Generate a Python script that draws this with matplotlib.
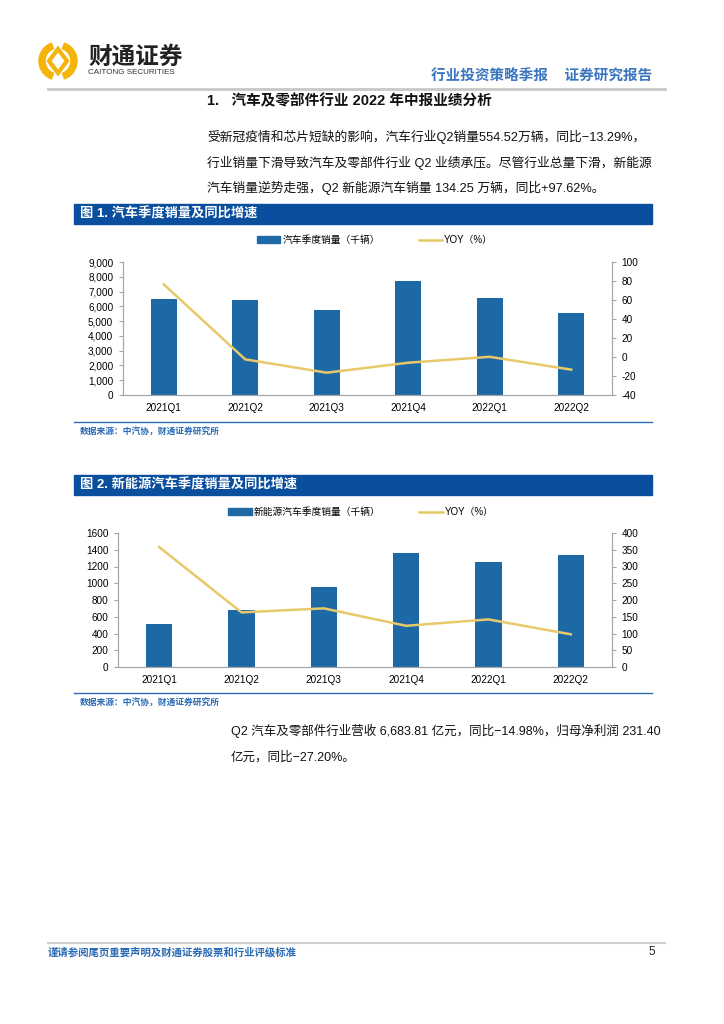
import numpy as np
import matplotlib
matplotlib.use("Agg")
import matplotlib.pyplot as plt
from matplotlib.patches import Rectangle, Wedge, Polygon
from matplotlib.lines import Line2D

plt.rcParams['font.family'] = ['Liberation Sans', 'Noto Sans CJK SC', 'DejaVu Sans']
plt.rcParams['axes.unicode_minus'] = False

# ---------------- data ----------------
quarters = ["2021Q1", "2021Q2", "2021Q3", "2021Q4", "2022Q1", "2022Q2"]

car_sales = [6500, 6420, 5780, 7730, 6560, 5545]       # 千辆
car_yoy = [76.5, -2.5, -16.5, -6.0, 0.2, -13.3]       # %

nev_sales = [516, 676, 952, 1364, 1252, 1343]          # 千辆
nev_yoy = [358, 163, 175, 123, 142, 97.6]              # %

para1 = ["受新冠疫情和芯片短缺的影响，汽车行业Q2销量554.52万辆，同比−13.29%，",
         "行业销量下滑导致汽车及零部件行业 Q2 业绩承压。尽管行业总量下滑，新能源",
         "汽车销量逆势走强，Q2 新能源汽车销量 134.25 万辆，同比+97.62%。"]
para2 = ["Q2 汽车及零部件行业营收 6,683.81 亿元，同比−14.98%，归母净利润 231.40",
         "亿元，同比−27.20%。"]

BAR = "#1c69a6"
LINE = "#e8c96a"
TITLE_BLUE = "#0a4e9e"
TEXT_BLUE = "#3a76bf"
GRID = "#a6a6a6"

W, H = 724, 1024
fig = plt.figure(figsize=(W / 100, H / 100), dpi=100)


def P(x, y):
    return x / W, 1 - y / H


def txt(x, y, s, **kw):
    fig.text(*P(x, y), s, **kw)


# ---------------- header ----------------
# logo mark
lx, ly, r = 58, 61, 19
for a0 in [20, 110, 200, 290]:
    fig.patches.append(Wedge((lx, H - ly), r, a0, a0 + 50, width=6,
                             color="#f5b40a", transform=None))
fig.patches.append(Wedge((lx, H - ly), r, -20, 20, width=6,
                         color="#f5b40a", transform=None))
fig.patches.append(Wedge((lx, H - ly), r, 160, 200, width=6,
                         color="#f5b40a", transform=None))
fig.patches.append(Polygon([(lx - 9, H - ly), (lx, H - ly + 12), (lx + 9, H - ly),
                            (lx, H - ly - 12)], closed=True, fill=False,
                           edgecolor="#f5b40a", linewidth=3, transform=None))
txt(88, 57, "财通证券", fontsize=17, fontweight='bold', color="#222222", va='center',
    family=['Noto Sans CJK SC'])
txt(88, 73, "CAITONG SECURITIES", fontsize=5.8, color="#333333", va='center')
txt(652, 77, "行业投资策略季报    证券研究报告", fontsize=10.5, color=TEXT_BLUE,
    ha='right', va='center', fontweight='bold')
fig.add_artist(Line2D([48 / W, 665 / W], [1 - 89 / H, 1 - 89 / H], color="#c8c8c8", lw=2))

# ---------------- section title + paragraph ----------------
txt(207, 101, "1.   汽车及零部件行业 2022 年中报业绩分析", fontsize=10.5,
    fontweight='bold', color="#111111", va='center')
for i, line in enumerate(para1):
    txt(207, 137 + i * 25.5, line, fontsize=9.2, color="#111111", va='center')


# ---------------- chart helper ----------------
def chart(top_bar, title, legend_y, legend_x, bar_label, ax_box, sales, yoy,
          lylim, lyticks, rylim, ryticks, fmt, src_y):
    # title bar
    fig.patches.append(Rectangle((74, H - top_bar - 20), 578, 20, color=TITLE_BLUE,
                                 transform=None))
    txt(80, top_bar + 10, title, fontsize=9.5, color="white", fontweight='bold',
        va='center')

    l, t, r, b = ax_box
    ax = fig.add_axes([l / W, 1 - b / H, (r - l) / W, (b - t) / H])
    x = np.arange(len(quarters))
    ax.bar(x, sales, width=0.32, color=BAR, zorder=2)
    ax.set_xlim(-0.5, len(quarters) - 0.5)
    ax.set_ylim(*lylim)
    ax.set_yticks(lyticks)
    ax.set_yticklabels([fmt(v) for v in lyticks])
    ax.set_xticks(x)
    ax.set_xticklabels(quarters)
    ax.tick_params(axis='x', length=0, labelsize=7.2, pad=6)
    ax.tick_params(axis='y', length=3, color=GRID, labelsize=7.2, pad=4)
    ax.spines['top'].set_visible(False)
    for s in ['left', 'right', 'bottom']:
        ax.spines[s].set_color(GRID)
        ax.spines[s].set_linewidth(0.8)

    ax2 = ax.twinx()
    ax2.plot(x, yoy, color=LINE, lw=1.8, zorder=3)
    ax2.set_ylim(*rylim)
    ax2.set_yticks(ryticks)
    ax2.tick_params(axis='y', length=3, color=GRID, labelsize=7.2, pad=4)
    ax2.spines['top'].set_visible(False)
    for s in ['left', 'right', 'bottom']:
        ax2.spines[s].set_color(GRID)
        ax2.spines[s].set_linewidth(0.8)

    handles = [Rectangle((0, 0), 1, 1, color=BAR),
               Line2D([0], [0], color=LINE, lw=1.8)]
    fig.legend(handles, [bar_label, "YOY（%）"], loc='center', ncol=2,
               bbox_to_anchor=P(legend_x, legend_y), frameon=False, fontsize=7,
               handlelength=2.4, handleheight=0.6, handletextpad=0.2,
               columnspacing=4.0)

    fig.add_artist(Line2D([74 / W, 652 / W], [1 - src_y / H, 1 - src_y / H],
                          color="#2a6bb5", lw=1.0))
    txt(80, src_y + 10, "数据来源：中汽协，财通证券研究所", fontsize=6.3,
        color="#2a6bb5", fontweight='bold', va='center')
    return ax


chart(204, "图 1. 汽车季度销量及同比增速", 240, 375, "汽车季度销量（千辆）",
      (123, 262, 612, 395), car_sales, car_yoy,
      (0, 9000), list(range(0, 9001, 1000)), (-40, 100), list(range(-40, 101, 20)),
      lambda v: f"{v:,}", 422)

chart(475, "图 2. 新能源汽车季度销量及同比增速", 512, 361, "新能源汽车季度销量（千辆）",
      (118, 533, 612, 667), nev_sales, nev_yoy,
      (0, 1600), list(range(0, 1601, 200)), (0, 400), list(range(0, 401, 50)),
      lambda v: f"{v}", 693)

# ---------------- closing paragraph ----------------
for i, line in enumerate(para2):
    txt(231, 731 + i * 26, line, fontsize=9.0, color="#111111", va='center')

# ---------------- footer ----------------
fig.add_artist(Line2D([48 / W, 665 / W], [1 - 943 / H, 1 - 943 / H], color="#d0d0d0", lw=1.5))
txt(48, 952, "谨请参阅尾页重要声明及财通证券股票和行业评级标准", fontsize=7.5,
    color="#2a6bb5", fontweight='bold', va='center')
txt(655, 952, "5", fontsize=8.5, color="#222222", ha='right', va='center')

fig.savefig("out.png", dpi=100)
